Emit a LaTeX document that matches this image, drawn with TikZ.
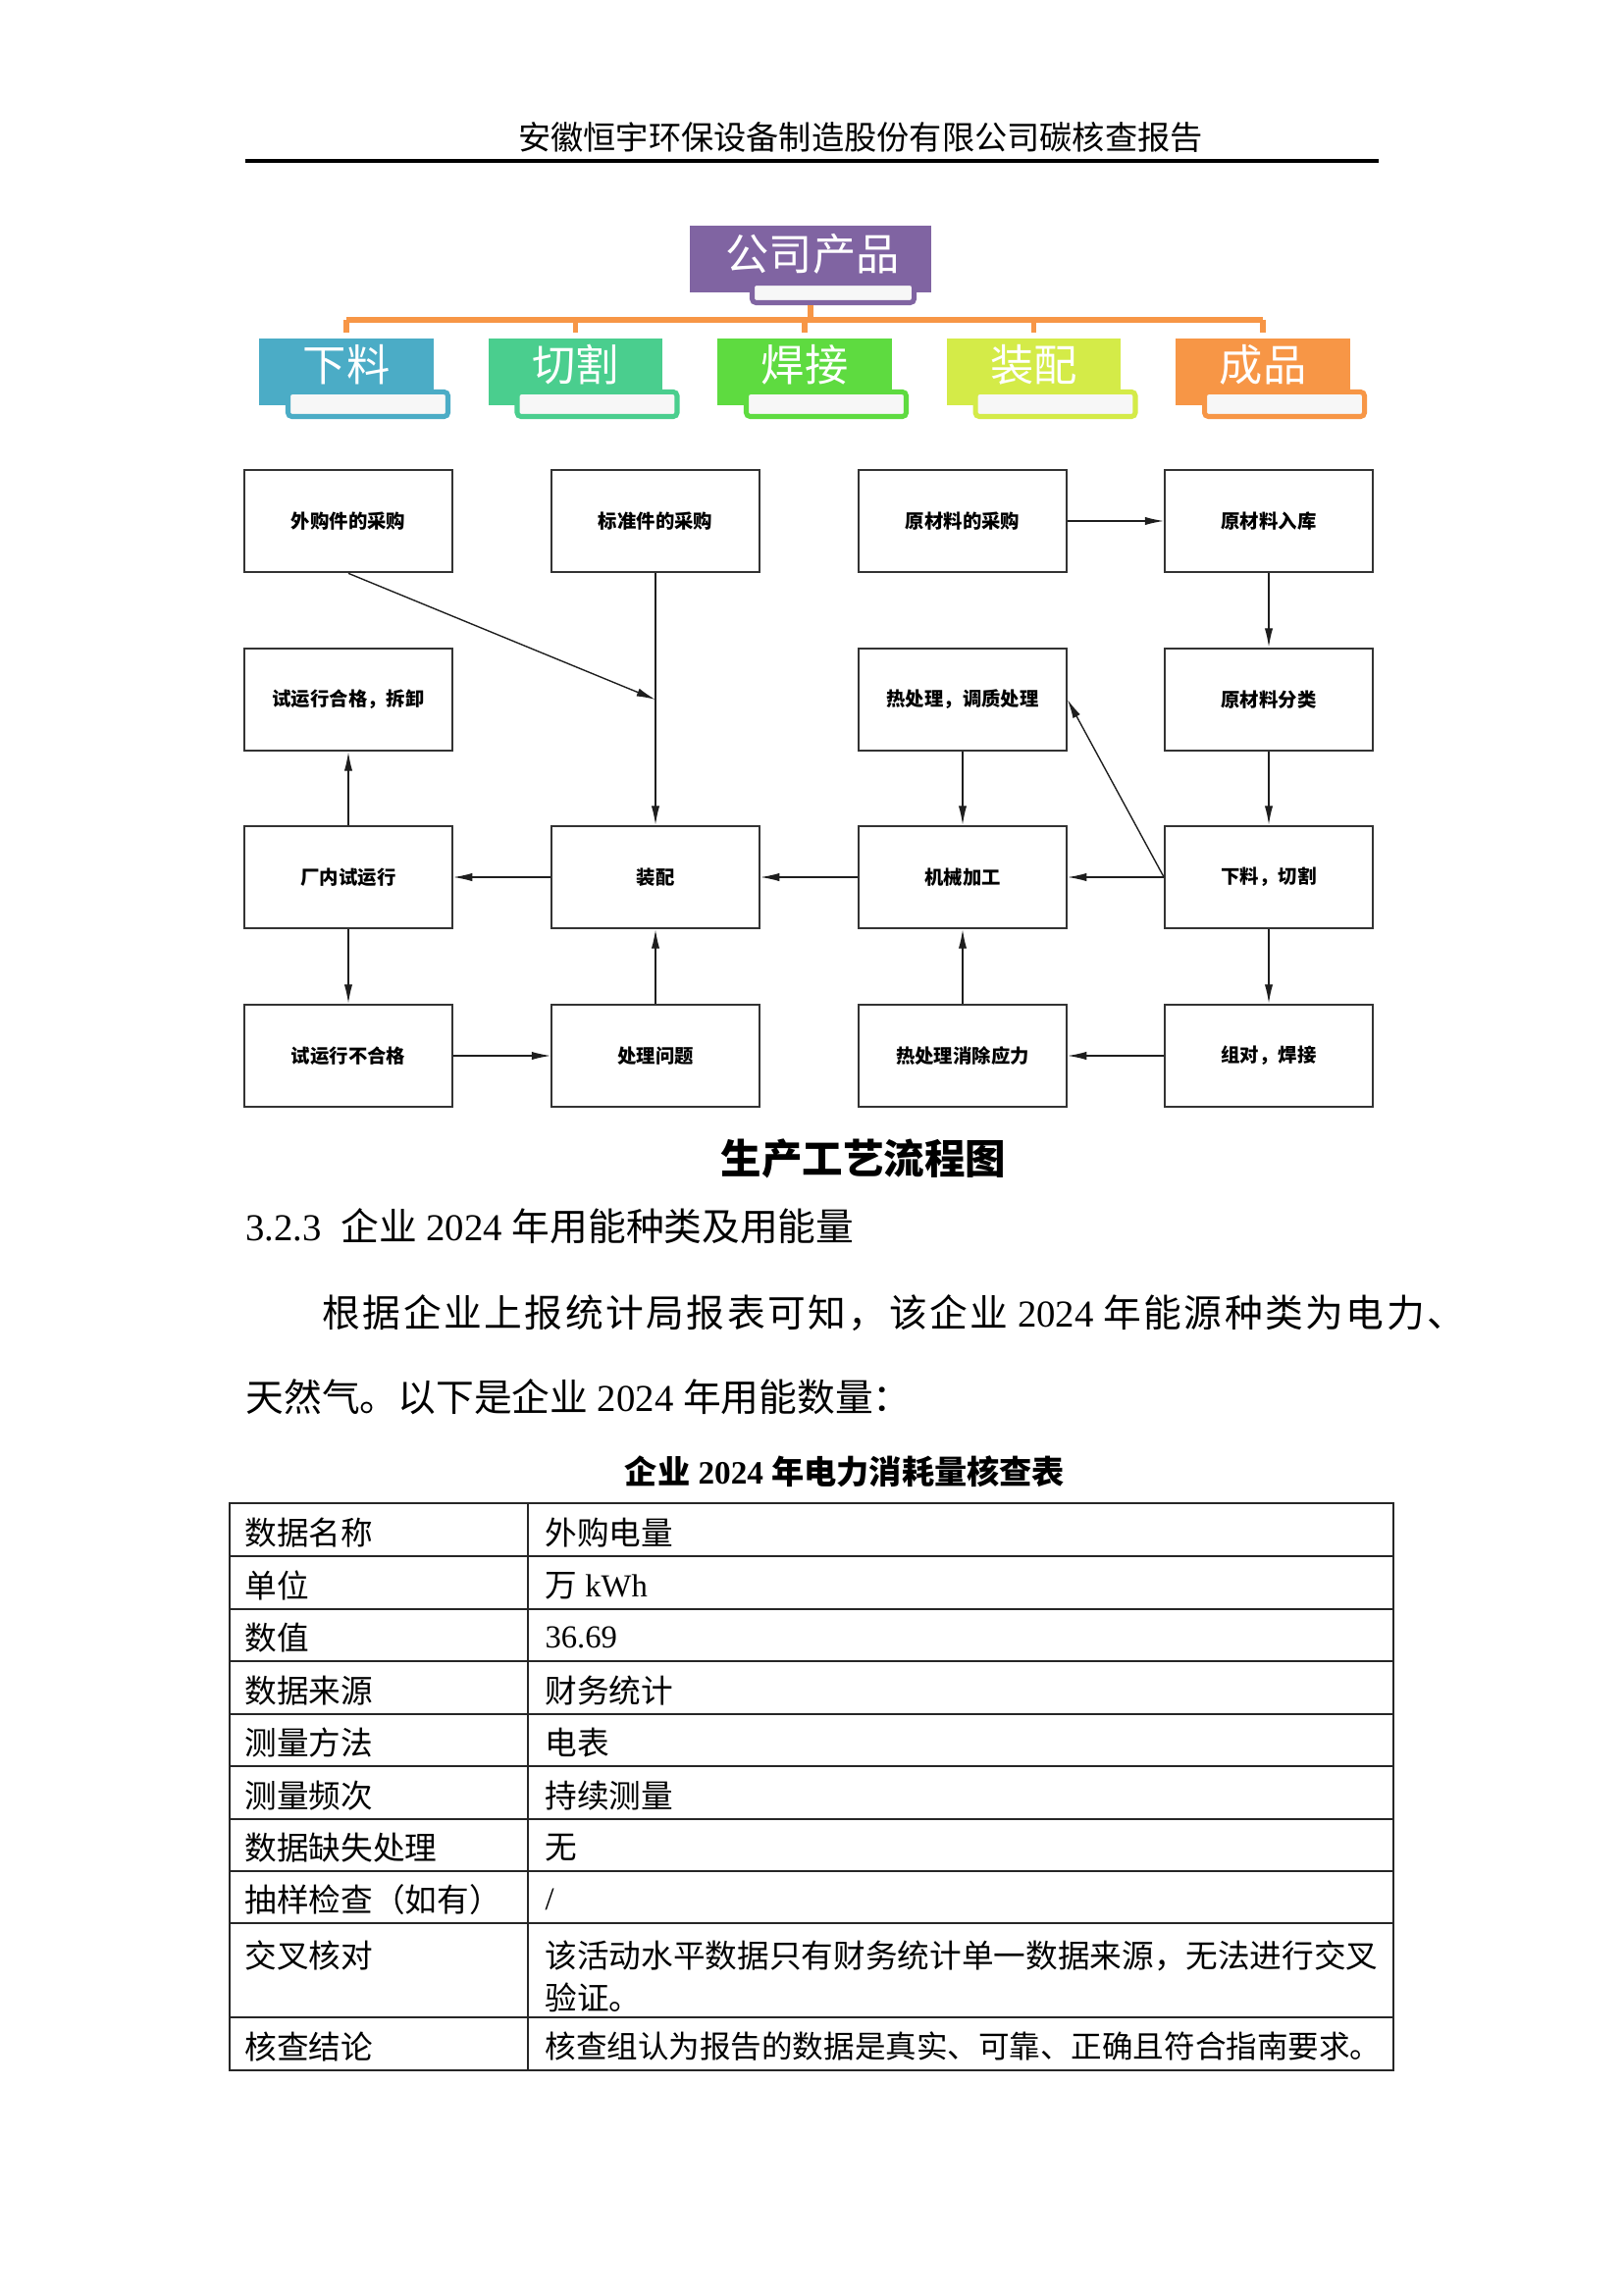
\documentclass[tikz,border=0pt]{standalone}
\usepackage{fontspec}
\setmainfont{Noto Sans CJK SC}
\newfontfamily\lat{Liberation Serif}
\usepackage{tikz}
\usetikzlibrary{arrows.meta, positioning, calc}
\definecolor{orgpurple}{RGB}{128,100,162}
\definecolor{orgteal}{RGB}{75,172,198}
\definecolor{orgmint}{RGB}{74,206,142}
\definecolor{orggreen}{RGB}{94,219,64}
\definecolor{orglime}{RGB}{212,235,72}
\definecolor{orgorange}{RGB}{247,150,70}
\definecolor{mydark}{RGB}{30,30,30}
\tikzset{
  orgbox/.style={rectangle, fill=#1, minimum width=22.6mm,
    minimum height=8.64mm, inner sep=0pt},
  orgsub/.style={rectangle, draw=#1, fill=gray!6, line width=0.64mm,
    minimum width=20.7mm, minimum height=3.18mm, rounded corners=0.5mm,
    inner sep=0pt},
  orgtext/.style={text=white, font=\fontsize{16}{18}\selectfont, inner sep=0pt},
  orgline/.style={draw=orgorange, line width=2pt},
  procbox/.style={rectangle, draw=black!80, line width=0.7pt,
    minimum width=26.9mm, minimum height=13.3mm, inner sep=0pt,
    font=\fontsize{7}{8}\selectfont\bfseries},
  arrow/.style={-{Latex[length=7pt,width=3pt]}, line width=0.5pt, color=mydark},
  tblline/.style={line width=0.8pt, color=black!85},
  celltext/.style={anchor=west, inner sep=0pt, font=\fontsize{11.8}{14}\selectfont}
}

\begin{document}
\begin{tikzpicture}[x=0.127mm, y=-0.127mm]
  \fill[white] (0,0) rectangle (1654,2339);
  \useasboundingbox (0,0) rectangle (1654,2339);

  % Page header
  \node[inner sep=0pt, font=\fontsize{12}{14}\selectfont] (hdr) at (877,140) {安徽恒宇环保设备制造股份有限公司碳核查报告};
  \draw[line width=1.3pt] (250,164) -- (1405,164);

  % Products chart
  \node[orgbox=orgpurple, minimum width=31.24mm] (otop) at (826,264) {};
  \node[orgsub=orgpurple, minimum width=20.96mm, minimum height=2.54mm] (otopsub) at (849,298.5) {};
  \node[orgtext] (otoptxt) at (828,259) {公司产品};

  \node[orgbox=orgteal] (oxl) at (353,379) {};
  \node[orgsub=orgteal] (oxlsub) at (375,412) {};
  \node[orgtext] (oxltxt) at (353,372) {下料};

  \node[orgbox=orgmint] (oqg) at (586.5,379) {};
  \node[orgsub=orgmint] (oqgsub) at (608.5,412) {};
  \node[orgtext] (oqgtxt) at (586.5,372) {切割};

  \node[orgbox=orggreen] (ohj) at (820,379) {};
  \node[orgsub=orggreen] (ohjsub) at (842,412) {};
  \node[orgtext] (ohjtxt) at (820,372) {焊接};

  \node[orgbox=orglime] (ozp) at (1053.5,379) {};
  \node[orgsub=orglime] (ozpsub) at (1075.5,412) {};
  \node[orgtext] (ozptxt) at (1053.5,372) {装配};

  \node[orgbox=orgorange] (ocp) at (1287,379) {};
  \node[orgsub=orgorange] (ocpsub) at (1309,412) {};
  \node[orgtext] (ocptxt) at (1287,372) {成品};

  \coordinate (bar) at (826,326);
  \draw[orgline] (otop.south |- otopsub.south) -- (bar);
  \draw[orgline] (oxl.north |- bar) -- (ocp.north |- bar);
  \draw[orgline] (oxl.north |- bar) -- ([yshift=0.64mm]oxl.north);
  \draw[orgline] (oqg.north |- bar) -- ([yshift=0.64mm]oqg.north);
  \draw[orgline] (ohj.north |- bar) -- ([yshift=0.64mm]ohj.north);
  \draw[orgline] (ozp.north |- bar) -- ([yshift=0.64mm]ozp.north);
  \draw[orgline] (ocp.north |- bar) -- ([yshift=0.64mm]ocp.north);

  % Process flow boxes
  \node[procbox] (wgj) at (355,531) {外购件的采购};
  \node[procbox] (bzj) at (668,531) {标准件的采购};
  \node[procbox] (ycl) at (981,531) {原材料的采购};
  \node[procbox] (rk) at (1293,531) {原材料入库};

  \node[procbox] (hg) at (355,713) {试运行合格，拆卸};
  \node[procbox] (rcl) at (981,713) {热处理，调质处理};
  \node[procbox] (fl) at (1293,713) {原材料分类};

  \node[procbox] (sy) at (355,894) {厂内试运行};
  \node[procbox] (zp) at (668,894) {装配};
  \node[procbox] (jx) at (981,894) {机械加工};
  \node[procbox] (xl) at (1293,894) {下料，切割};

  \node[procbox] (bhg) at (355,1076) {试运行不合格};
  \node[procbox] (cl) at (668,1076) {处理问题};
  \node[procbox] (xc) at (981,1076) {热处理消除应力};
  \node[procbox] (hj) at (1293,1076) {组对，焊接};

  % Flow arrows
  \coordinate (join) at (bzj.south |- hg.east);
  \draw[arrow] (wgj.south) -- (join);
  \draw[arrow] (bzj.south) -- (zp.north);
  \draw[arrow] (ycl.east) -- (rk.west);
  \draw[arrow] (rk.south) -- (fl.north);
  \draw[arrow] (fl.south) -- (xl.north);
  \draw[arrow] (xl.west) -- (jx.east);
  \draw[arrow] (xl.west) -- (rcl.east);
  \draw[arrow] (rcl.south) -- (jx.north);
  \draw[arrow] (jx.west) -- (zp.east);
  \draw[arrow] (zp.west) -- (sy.east);
  \draw[arrow] (sy.north) -- (hg.south);
  \draw[arrow] (sy.south) -- (bhg.north);
  \draw[arrow] (bhg.east) -- (cl.west);
  \draw[arrow] (cl.north) -- (zp.south);
  \draw[arrow] (xl.south) -- (hj.north);
  \draw[arrow] (hj.west) -- (xc.east);
  \draw[arrow] (xc.north) -- (jx.south);

  % Caption and text
  \node[inner sep=0pt, font=\fontsize{15}{17}\selectfont\bfseries] (cap) at (880,1181) {生产工艺流程图};
  \node[anchor=west, inner sep=0pt, font=\fontsize{14}{16}\selectfont] (sec) at (250,1250)
    {{\lat 3.2.3\ \ }企业{\lat\ 2024\ }年用能种类及用能量};
  \node[anchor=west, inner sep=0pt, font=\fontsize{14}{16}\selectfont] (par1) at (328,1338)
    {\addfontfeatures{LetterSpace=6.5}根据企业上报统计局报表可知，该企业{\lat\ 2024\ }年能源种类为电力、};
  \node[anchor=west, inner sep=0pt, font=\fontsize{14}{16}\selectfont] (par2) at (250,1424)
    {天然气。以下是企业{\lat\ 2024\ }年用能数量：};

  % Table
  \node[inner sep=0pt, font=\fontsize{12}{14}\selectfont\bfseries] (tcap) at (861,1500)
    {企业{\lat\bfseries\ 2024\ }年电力消耗量核查表};
  \draw[tblline] (234,1532) rectangle (1420,2110);
  \draw[tblline] (538,1532) -- (538,2110);
  \draw[tblline] (234,1586) -- (1420,1586);
  \draw[tblline] (234,1640) -- (1420,1640);
  \draw[tblline] (234,1693) -- (1420,1693);
  \draw[tblline] (234,1747) -- (1420,1747);
  \draw[tblline] (234,1800) -- (1420,1800);
  \draw[tblline] (234,1854) -- (1420,1854);
  \draw[tblline] (234,1907) -- (1420,1907);
  \draw[tblline] (234,1960) -- (1420,1960);
  \draw[tblline] (234,2056) -- (1420,2056);

  \node[celltext] (r1a) at (249,1562) {数据名称};
  \node[celltext] (r1b) at (555,1562) {外购电量};
  \node[celltext] (r2a) at (249,1616) {单位};
  \node[celltext] (r2b) at (555,1616) {万{\lat\ kWh}};
  \node[celltext] (r3a) at (249,1669) {数值};
  \node[celltext] (r3b) at (555,1669) {\lat 36.69};
  \node[celltext] (r4a) at (249,1723) {数据来源};
  \node[celltext] (r4b) at (555,1723) {财务统计};
  \node[celltext] (r5a) at (249,1776) {测量方法};
  \node[celltext] (r5b) at (555,1776) {电表};
  \node[celltext] (r6a) at (249,1830) {测量频次};
  \node[celltext] (r6b) at (555,1830) {持续测量};
  \node[celltext] (r7a) at (249,1883) {数据缺失处理};
  \node[celltext] (r7b) at (555,1883) {无};
  \node[celltext] (r8a) at (249,1936) {抽样检查（如有）};
  \node[celltext] (r8b) at (555,1936) {\lat /};
  \node[celltext] (r9a) at (249,1993) {交叉核对};
  \node[celltext] (r9b) at (555,1993) {该活动水平数据只有财务统计单一数据来源，无法进行交叉};
  \node[celltext] (r9c) at (555,2036) {验证。};
  \node[celltext] (r10a) at (249,2086) {核查结论};
  \node[celltext, font=\fontsize{11.4}{14}\selectfont] (r10b) at (555,2086) {核查组认为报告的数据是真实、可靠、正确且符合指南要求。};
\end{tikzpicture}
\end{document}
